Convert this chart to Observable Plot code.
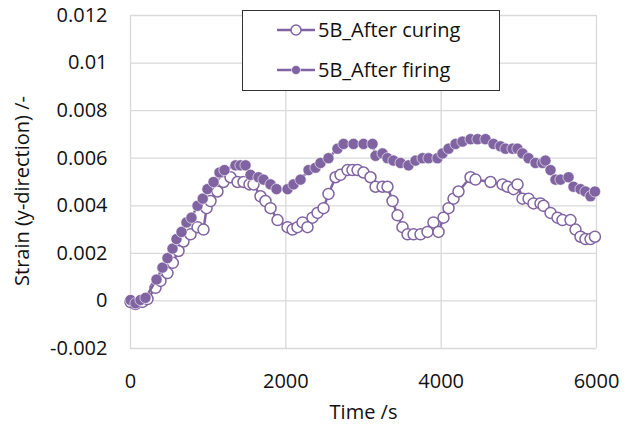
<!DOCTYPE html>
<html>
<head>
<meta charset="utf-8">
<script src="https://cdn.jsdelivr.net/npm/d3@7"></script>
<script src="https://cdn.jsdelivr.net/npm/@observablehq/plot@0.6"></script>
<style>
  html, body { margin: 0; padding: 0; background: #fff; }
</style>
</head>
<body>
<div id="chart"></div>
<script>
const seriesNames = ["5B_After curing", "5B_After firing"];
const xTicks = [0, 2000, 4000, 6000];
const yTicks = [-0.002, 0, 0.002, 0.004, 0.006, 0.008, 0.01, 0.012];

const timeCuring = [0, 64, 155, 219, 322, 386, 476, 545, 618, 682, 773, 863, 940, 979, 1030, 1120, 1197, 1288, 1378, 1455, 1532, 1584, 1674, 1738, 1803, 1893, 2022, 2086, 2150, 2215, 2279, 2343, 2408, 2485, 2549, 2640, 2704, 2794, 2858, 2923, 3000, 3090, 3155, 3245, 3309, 3374, 3438, 3502, 3567, 3644, 3734, 3824, 3901, 3966, 4030, 4095, 4159, 4223, 4378, 4442, 4635, 4790, 4854, 4931, 4983, 5047, 5125, 5189, 5279, 5318, 5408, 5498, 5562, 5665, 5730, 5794, 5858, 5923, 5980];
const strainCuring = [-0.00005, -0.00013, -0.00004, 0.00008, 0.00055, 0.00084, 0.00117, 0.0016, 0.0021, 0.0025, 0.0028, 0.0031, 0.0030, 0.0039, 0.0042, 0.0046, 0.0050, 0.0052, 0.0050, 0.0050, 0.0049, 0.0049, 0.0044, 0.0042, 0.0039, 0.0034, 0.0031, 0.0030, 0.0031, 0.0033, 0.0031, 0.0035, 0.0037, 0.0039, 0.0045, 0.0052, 0.0053, 0.0055, 0.0055, 0.0055, 0.0054, 0.0052, 0.0048, 0.0048, 0.0048, 0.0042, 0.0036, 0.0031, 0.0028, 0.0028, 0.0028, 0.0029, 0.0033, 0.0029, 0.0035, 0.0039, 0.0043, 0.0046, 0.0052, 0.0051, 0.0050, 0.0049, 0.0048, 0.0047, 0.0049, 0.0043, 0.0043, 0.0041, 0.0041, 0.0040, 0.0037, 0.0035, 0.0034, 0.0034, 0.0030, 0.0027, 0.0026, 0.0026, 0.0027];

const timeFiring = [0, 64, 129, 193, 335, 412, 476, 541, 592, 657, 721, 785, 863, 930, 991, 1069, 1146, 1210, 1352, 1416, 1481, 1545, 1648, 1713, 1803, 1880, 2022, 2099, 2189, 2292, 2382, 2446, 2549, 2665, 2743, 2871, 3000, 3116, 3155, 3245, 3309, 3386, 3477, 3580, 3670, 3760, 3837, 3953, 4017, 4095, 4185, 4275, 4378, 4468, 4571, 4674, 4764, 4828, 4919, 4983, 5047, 5125, 5215, 5305, 5343, 5408, 5472, 5537, 5640, 5704, 5794, 5858, 5923, 5980];
const strainFiring = [0.00004, -0.0001, 0.00004, 0.00013, 0.0009, 0.0014, 0.0018, 0.0022, 0.0026, 0.0029, 0.0033, 0.0035, 0.0040, 0.0043, 0.0047, 0.0050, 0.0054, 0.0055, 0.0057, 0.0057, 0.0057, 0.0053, 0.0052, 0.0051, 0.0049, 0.0047, 0.0047, 0.0049, 0.0051, 0.0055, 0.0056, 0.0058, 0.0060, 0.0064, 0.0066, 0.0066, 0.0066, 0.0066, 0.0061, 0.0062, 0.0060, 0.0059, 0.0058, 0.0057, 0.0059, 0.0060, 0.0060, 0.0060, 0.0062, 0.0064, 0.0066, 0.0067, 0.0068, 0.0068, 0.0068, 0.0066, 0.0065, 0.0064, 0.0064, 0.0064, 0.0062, 0.0060, 0.0058, 0.0058, 0.0059, 0.0055, 0.0051, 0.0051, 0.0052, 0.0048, 0.0047, 0.0046, 0.0044, 0.0046];

const purple = "#8064a2";
const curing = timeCuring.map((t, i) => ({t, v: strainCuring[i]}));
const firing = timeFiring.map((t, i) => ({t, v: strainFiring[i]}));
const fmtY = d => String(+d.toFixed(3));
const fmtX = d => String(d);

const chart = Plot.plot({
  width: 627,
  height: 434,
  marginLeft: 130,
  marginRight: 31,
  marginTop: 15,
  marginBottom: 86,
  style: {fontFamily: "Open Sans", fontSize: "20px", color: "#111", background: "#fff"},
  x: {domain: [0, 6000]},
  y: {domain: [-0.002, 0.012]},
  marks: [
    Plot.gridX(xTicks, {stroke: "#d9d9d9", strokeOpacity: 1, strokeWidth: 1.3}),
    Plot.gridY(yTicks, {stroke: "#d9d9d9", strokeOpacity: 1, strokeWidth: 1.3}),
    Plot.line(curing, {x: "t", y: "v", stroke: purple, strokeWidth: 2.5}),
    Plot.dot(curing, {x: "t", y: "v", r: 5.5, fill: "white", stroke: purple, strokeWidth: 1.5}),
    Plot.line(firing, {x: "t", y: "v", stroke: purple, strokeWidth: 2.5}),
    Plot.dot(firing, {x: "t", y: "v", r: 5.6, fill: purple, stroke: "white", strokeWidth: 0.6}),
    Plot.axisX(xTicks, {tickSize: 0, tickPadding: 25, fontSize: 20, tickFormat: fmtX, label: null}),
    Plot.axisY(yTicks, {tickSize: 0, tickPadding: 23, fontSize: 20, tickFormat: fmtY, label: null}),
    Plot.text(["Time /s"], {frameAnchor: "bottom", dy: 64, textAnchor: "middle", lineAnchor: "middle", fontSize: 20}),
    Plot.text(["Strain (y-direction) /-"], {frameAnchor: "left", dx: -108, dy: 9, rotate: -90, textAnchor: "middle", lineAnchor: "middle", fontSize: 20})
  ]
});

// Legend drawn inside the SVG
const svg = d3.select(chart);
const lg = svg.append("g").attr("class", "legend").attr("text-anchor", "start");
lg.append("rect").attr("x", 242.5).attr("y", 10.5).attr("width", 257).attr("height", 80)
  .attr("fill", "white").attr("stroke", "#333").attr("stroke-width", 1);
seriesNames.forEach((name, i) => {
  const cy = 30 + i * 40;
  lg.append("line").attr("x1", 277).attr("x2", 315).attr("y1", cy).attr("y2", cy)
    .attr("stroke", purple).attr("stroke-width", 2.5);
  lg.append("circle").attr("cx", 296).attr("cy", cy).attr("r", i === 0 ? 5 : 4.5)
    .attr("fill", i === 0 ? "white" : purple).attr("stroke", i === 0 ? purple : "white")
    .attr("stroke-width", i === 0 ? 1.5 : 0.6);
  lg.append("text").attr("x", 318).attr("y", cy).attr("dy", "0.35em")
    .attr("text-anchor", "start").attr("fill", "#111").attr("font-size", 20).text(name);
});

document.getElementById("chart").appendChild(chart);
</script>
</body>
</html>
